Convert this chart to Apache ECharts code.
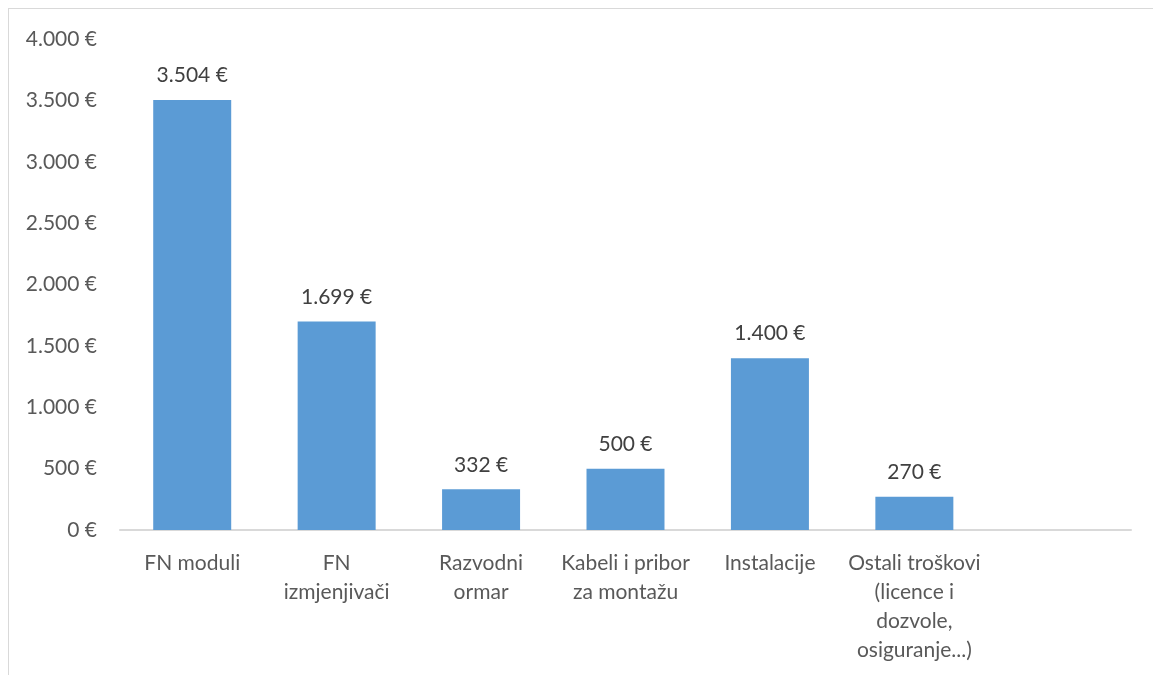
<!DOCTYPE html>
<html>
<head>
<meta charset="utf-8">
<script src="https://cdn.jsdelivr.net/npm/echarts@6/dist/echarts.min.js"></script>
<style>
html,body{margin:0;padding:0;background:#fff;overflow:hidden}
#frame{position:absolute;left:8px;top:8px;width:1200px;height:720px;border:1px solid #d9d9d9}
#main{position:absolute;left:0;top:0;width:1153px;height:675px}
</style>
</head>
<body>
<div id="frame"></div>
<div id="main"></div>
<script>
// troskovi FN elektrane
var kategorije = ['FN moduli', 'FN\nizmjenjivači', 'Razvodni\normar', 'Kabeli i pribor\nza montažu',
	'Instalacije', 'Ostali troškovi\n(licence i\ndozvole,\nosiguranje...)', ''];
var iznosi = [3504, 1699, 332, 500, 1400, 270, null];

var yMin = 0, yMax = 4000, yKorak = 500;

function euro(v){
	var s = String(Math.round(v));
	s = s.replace(/\B(?=(\d{3})+(?!\d))/g, '.');
	return s + ' €';
}

var chart = echarts.init(document.getElementById('main'), null, {renderer: 'canvas'});

var option = {
	animation: false,
	textStyle: {fontFamily: 'Lato'},
	grid: {
		left: 120,
		right: 22,
		top: 39,
		bottom: 145
	},
	xAxis: {
		type: 'category',
		data: kategorije,
		axisLine: {lineStyle: {color: '#d9d9d9', width: 2}},
		axisTick: {show: false},
		axisLabel: {
			interval: 0,
			color: '#595959',
			fontFamily: 'Lato',
			fontSize: 21,
			lineHeight: 29,
			margin: 19
		}
	},
	yAxis: {
		type: 'value',
		min: yMin,
		max: yMax,
		interval: yKorak,
		axisLine: {show: false},
		axisTick: {show: false},
		splitLine: {show: false},
		axisLabel: {
			color: '#595959',
			fontFamily: 'Lato',
			fontSize: 21,
			margin: 23,
			formatter: euro
		}
	},
	series: [{
		type: 'bar',
		data: iznosi,
		barWidth: '54%',
		itemStyle: {color: '#5b9bd5'},
		label: {
			show: true,
			position: 'top',
			distance: 14,
			color: '#404040',
			fontFamily: 'Lato',
			fontSize: 21,
			formatter: function(p){ return p.value == null ? '' : euro(p.value); }
		}
	}]
};

chart.setOption(option);
</script>
</body>
</html>
